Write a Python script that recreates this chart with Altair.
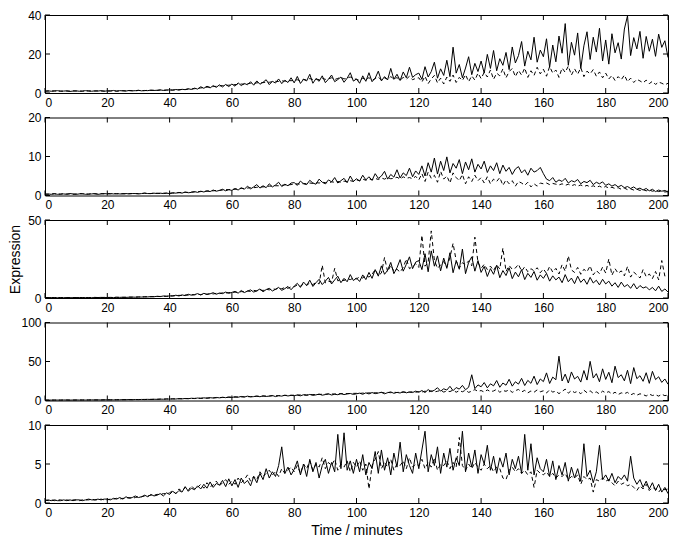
import altair as alt
import pandas as pd

TIME = list(range(201))
XTICKS = [0, 20, 40, 60, 80, 100, 120, 140, 160, 180, 200]

P1_SOLID = (
    [1.0,1.1,0.9,1.0,1.2,0.9,1.0,1.1,0.8,1.0,1.1,0.9,1.0,1.2,1.0,0.9,1.1,1.0,1.2,0.9]
    + [1.1,1.0,1.3,0.9,1.2,1.1,1.0,1.3,1.1,1.2,1.4,1.1,1.3,1.2,1.5,1.3,1.4,1.6,1.3,1.5]
    + [1.6,1.4,1.8,1.5,1.9,1.7,2.2,1.8,2.5,2.0,3.2,2.4,3.5,2.6,3.8,2.9,4.2,3.1,4.4,3.3]
    + [4.6,3.5,5.2,3.8,4.9,4.2,5.8,4.0,6.2,4.5,5.5,6.8,4.3,6.0,5.1,7.2,4.8,6.5,5.4,7.8]
    + [5.2,8.5,4.9,7.0,6.2,9.6,5.0,7.4,6.0,8.8,5.3,7.1,9.2,5.8,6.9,8.2,5.5,7.6,10.4,6.1]
    + [7.2,5.0,8.8,6.0,10.4,5.8,7.6,11.2,6.2,8.4,6.8,12.6,7.0,9.6,6.4,10.8,7.8,13.2,8.0,9.4]
    + [10.2,7.0,13.5,8.2,11.0,15.8,7.6,12.4,9.0,16.8,8.4,23.5,10.2,14.6,7.8,12.8,18.6,9.4,15.2,11.0]
    + [16.4,10.2,19.8,12.6,21.8,11.4,17.6,14.2,20.8,12.0,23.6,15.4,19.2,26.4,13.8,21.4,17.0,28.6,15.8,22.0]
    + [18.6,27.8,13.2,24.6,16.0,29.2,20.4,35.6,14.2,26.0,19.4,30.8,12.6,24.2,31.4,17.2,28.6,21.0,33.2,16.4]
    + [27.2,14.8,30.4,20.6,25.8,17.4,32.8,39.6,19.2,28.4,22.6,31.6,17.8,29.0,21.4,27.6,18.8,30.2,23.4,26.8]
    + [18.2]
)
P1_DASHED = (
    [0.9,1.0,1.0,1.1,1.0,1.0,0.9,1.0,1.0,1.1,1.0,1.0,0.9,1.1,1.1,1.0,1.0,1.1,1.0,1.0]
    + [1.0,1.1,1.1,1.0,1.1,1.2,1.1,1.2,1.2,1.1,1.3,1.2,1.2,1.4,1.3,1.4,1.3,1.5,1.4,1.5]
    + [1.5,1.6,1.6,1.7,1.8,1.8,2.0,2.1,2.2,2.4,2.6,2.8,3.0,3.1,3.3,3.4,3.6,3.8,3.9,4.0]
    + [4.1,4.3,4.4,4.6,4.5,4.8,5.0,4.9,5.2,5.4,5.3,5.6,5.5,5.8,6.0,5.9,6.2,6.1,6.4,6.3]
    + [6.5,6.8,6.2,7.0,6.6,7.4,6.9,7.2,6.8,7.6,7.0,7.3,7.8,6.9,7.5,8.0,7.2,7.7,8.2,7.4]
    + [7.0,6.4,7.6,6.8,7.9,6.5,7.4,8.2,6.6,7.8,6.9,8.4,7.2,7.9,6.6,8.0,7.1,8.6,6.8,7.5]
    + [7.8,5.6,8.6,4.8,7.2,9.0,5.2,7.6,4.6,8.2,6.0,9.2,5.4,8.0,6.4,9.4,5.8,8.8,6.6,10.2]
    + [7.4,10.6,8.2,11.8,7.0,10.2,8.8,12.4,7.8,11.0,12.6,8.4,11.6,9.2,12.8,8.0,11.4,9.0,13.2,9.8]
    + [12.2,8.6,13.6,10.2,11.8,8.0,12.8,10.6,13.8,9.2,12.4,9.6,13.0,8.4,11.2,9.8,12.0,8.6,10.8,7.8]
    + [10.2,7.2,9.0,6.4,8.4,6.8,9.2,5.8,7.6,5.4,7.0,6.2,5.2,6.6,4.8,6.0,4.4,5.6,5.0,4.2]
    + [5.0]
)

P2_SOLID = (
    [0.3,0.4,0.3,0.5,0.3,0.4,0.4,0.3,0.5,0.4,0.3,0.4,0.5,0.3,0.4,0.4,0.5,0.3,0.4,0.5]
    + [0.4,0.5,0.4,0.5,0.4,0.4,0.5,0.4,0.5,0.5,0.4,0.5,0.6,0.5,0.5,0.6,0.5,0.6,0.5,0.6]
    + [0.5,0.7,0.6,0.8,0.6,0.9,0.7,0.8,1.0,0.8,1.1,0.9,1.2,1.0,1.4,1.1,1.3,1.6,1.2,1.5]
    + [1.3,1.8,1.4,2.0,1.6,2.4,1.7,2.2,2.8,1.9,2.5,2.0,3.0,2.2,2.7,3.4,2.3,2.9,2.5,3.2]
    + [3.3,2.6,3.7,3.0,2.8,3.9,3.2,2.9,4.2,3.4,3.0,4.0,3.5,4.6,3.2,3.8,4.4,3.3,5.0,3.6]
    + [4.3,3.7,5.2,4.0,4.8,3.9,5.6,4.4,5.0,6.2,4.2,5.4,4.7,6.6,4.5,5.8,5.1,7.0,4.8,6.3]
    + [5.4,7.6,5.0,8.4,6.0,9.6,5.5,8.8,6.4,9.9,5.8,8.2,7.0,9.2,5.6,8.6,6.6,9.4,6.0,8.0]
    + [6.8,8.8,5.9,7.6,6.4,8.4,5.6,7.8,6.2,7.2,5.4,6.8,7.4,5.8,6.6,5.2,7.0,6.0,6.4,7.2]
    + [5.6,4.2,3.8,4.6,3.4,4.0,3.6,4.4,3.2,3.8,3.5,4.1,3.0,3.6,3.3,3.9,2.8,3.4,3.0,3.5]
    + [2.6,3.0,2.4,2.8,2.2,2.6,2.0,2.3,1.8,2.2,1.6,1.9,1.4,1.8,1.2,1.6,1.0,1.4,1.1,1.3]
    + [0.9]
)
P2_DASHED = (
    [0.4,0.3,0.4,0.4,0.4,0.3,0.5,0.4,0.4,0.3,0.4,0.5,0.4,0.4,0.3,0.5,0.4,0.4,0.5,0.4]
    + [0.5,0.4,0.5,0.4,0.5,0.5,0.4,0.5,0.5,0.5,0.5,0.5,0.6,0.5,0.5,0.6,0.6,0.5,0.6,0.6]
    + [0.6,0.6,0.7,0.7,0.8,0.8,0.8,0.9,0.9,1.0,1.0,1.1,1.1,1.2,1.2,1.3,1.3,1.4,1.5,1.5]
    + [1.6,1.6,1.7,1.8,1.8,1.9,2.0,2.0,2.1,2.2,2.2,2.3,2.4,2.4,2.5,2.5,2.6,2.7,2.7,2.8]
    + [2.9,3.0,2.9,3.1,3.0,3.2,3.1,3.3,3.2,3.4,3.3,3.2,3.5,3.4,3.6,3.4,3.7,3.5,3.8,3.6]
    + [4.0,3.8,4.2,3.9,4.3,4.0,4.4,4.1,4.5,4.2,4.6,4.3,4.4,4.7,4.2,4.8,4.4,4.6,4.3,4.9]
    + [4.0,5.6,3.6,6.0,4.4,5.2,3.4,6.2,4.2,5.0,3.2,5.8,4.6,3.8,5.4,3.0,4.8,3.6,5.2,3.8]
    + [4.6,3.2,4.8,3.0,4.2,3.6,4.6,2.6,4.0,3.0,3.8,2.4,3.6,3.2,2.6,3.4,2.2,3.0,2.4,3.2]
    + [3.0,3.2,2.8,3.1,2.9,2.7,3.0,2.6,2.9,2.5,2.8,2.4,2.7,2.3,2.6,2.2,2.5,2.1,2.4,2.0]
    + [2.3,1.9,2.1,1.8,2.0,1.6,1.9,1.5,1.7,1.4,1.6,1.3,1.5,1.2,1.4,1.1,1.3,1.0,1.2,0.9]
    + [1.0]
)

P3_SOLID = (
    [0.2,0.2,0.3,0.2,0.2,0.3,0.2,0.3,0.2,0.2,0.3,0.3,0.2,0.3,0.3,0.2,0.3,0.3,0.4,0.3]
    + [0.3,0.4,0.3,0.4,0.4,0.5,0.4,0.5,0.6,0.5,0.7,0.6,0.8,0.7,0.9,0.8,1.1,0.9,1.3,1.0]
    + [1.4,1.2,1.8,1.3,2.0,1.5,2.4,1.8,2.2,2.8,1.9,3.0,2.3,2.7,3.4,2.4,3.2,2.8,3.8,3.0]
    + [3.6,4.2,3.1,4.8,3.5,4.4,5.2,3.8,4.6,5.8,4.0,5.4,6.2,4.5,5.6,6.8,4.9,6.0,7.4,5.3]
    + [7.6,9.4,6.8,10.2,8.0,11.4,7.4,9.8,12.0,8.6,10.8,13.2,9.0,11.6,14.0,9.8,12.6,10.4,15.0,11.2]
    + [12.8,10.6,14.8,11.8,16.4,12.6,18.2,14.0,20.6,15.2,17.8,22.8,15.6,19.4,24.6,17.2,21.6,26.4,18.8,23.0]
    + [24.0,18.2,28.4,16.8,30.2,20.4,27.0,17.4,25.6,19.0,29.0,16.2,23.8,18.4,31.4,15.6,22.8,26.4,17.2,24.0]
    + [16.4,20.2,13.8,18.8,15.2,21.0,13.0,17.6,14.4,19.4,12.4,16.6,13.6,18.2,11.8,15.8,13.2,17.0,11.4,14.8]
    + [12.6,15.8,10.8,14.2,11.6,13.4,9.8,15.0,10.4,12.8,9.2,14.0,10.0,12.2,8.8,13.2,9.6,11.4,8.4,12.0]
    + [9.0,10.8,7.6,9.8,6.8,10.2,7.2,8.6,6.2,9.2,5.8,8.0,6.4,7.2,5.2,6.8,4.6,7.6,4.2,5.8]
    + [3.8]
)
P3_DASHED = (
    [0.2,0.3,0.2,0.3,0.3,0.2,0.3,0.2,0.3,0.3,0.2,0.3,0.3,0.3,0.2,0.3,0.4,0.3,0.3,0.4]
    + [0.4,0.3,0.4,0.5,0.4,0.4,0.5,0.6,0.5,0.6,0.6,0.7,0.7,0.8,0.8,0.9,1.0,1.0,1.1,1.2]
    + [1.2,1.5,1.4,1.7,1.6,2.0,1.8,2.2,2.0,2.4,2.2,2.6,2.4,2.8,2.6,3.0,2.8,3.3,3.1,3.5]
    + [3.4,3.8,3.6,4.1,3.9,4.5,4.2,4.9,4.5,5.2,4.8,5.6,5.2,6.0,5.5,6.4,5.9,6.8,6.2,7.2]
    + [7.2,8.4,7.6,9.0,8.2,9.6,8.6,10.0,9.0,21.0,9.6,10.8,10.2,19.0,11.0,11.6,11.2,12.4,11.8,12.8]
    + [12.2,13.6,12.8,14.6,13.4,15.2,18.2,14.4,16.0,26.0,16.8,21.0,17.2,18.4,16.6,19.6,25.0,18.8,20.2,22.0]
    + [19.6,40.2,20.4,22.8,43.0,24.2,19.0,21.2,23.4,19.8,26.0,35.0,24.0,19.2,22.6,21.4,23.8,20.6,39.0,22.8]
    + [19.0,21.6,18.2,20.4,17.6,21.2,18.6,32.0,17.0,20.8,18.4,19.2,21.6,17.2,20.0,16.8,18.8,17.4,19.4,16.2]
    + [18.6,15.8,20.2,16.6,19.0,15.4,21.4,17.2,27.0,18.0,16.4,19.6,15.2,18.4,16.8,20.6,14.8,17.6,15.6,19.8]
    + [16.0,25.0,14.6,18.8,15.8,17.4,14.2,20.2,13.4,16.6,14.8,12.8,18.2,13.6,15.4,12.4,17.0,11.6,24.0,14.0]
    + [13.8]
)

P4_SOLID = (
    [0.5,0.6,0.5,0.5,0.6,0.5,0.7,0.6,0.5,0.6,0.7,0.6,0.7,0.6,0.7,0.8,0.7,0.8,0.7,0.9]
    + [0.8,0.9,0.8,1.0,0.9,1.1,1.0,1.2,1.0,1.3,1.1,1.4,1.2,1.5,1.3,1.6,1.5,1.8,1.6,2.0]
    + [1.8,2.2,1.9,2.4,2.1,2.6,2.3,2.9,2.5,3.2,2.7,3.4,3.0,3.6,3.2,3.9,3.4,4.2,3.6,4.5]
    + [3.9,4.8,4.2,5.2,4.4,5.6,4.6,5.0,5.8,4.8,6.0,5.2,5.6,6.4,5.0,6.2,5.6,6.8,5.8,6.6]
    + [6.2,7.0,6.0,7.4,6.4,7.8,6.6,7.2,8.2,6.8,7.6,8.6,7.0,8.0,7.4,8.8,7.6,8.4,9.0,7.8]
    + [8.6,9.4,8.0,9.8,8.4,10.2,8.8,9.6,10.6,8.6,10.0,11.0,9.2,10.4,9.6,11.4,9.8,11.0,10.2,12.0]
    + [10.6,12.8,10.2,14.0,11.4,13.2,16.4,12.0,15.0,13.4,18.2,12.6,16.6,14.6,19.4,13.8,17.0,33.0,15.2,20.0]
    + [17.6,23.0,16.2,21.4,18.8,25.6,17.0,22.4,19.6,27.2,18.4,24.0,21.0,28.4,19.2,25.8,22.0,31.2,20.4,27.6]
    + [24.2,35.4,21.8,30.0,26.6,56.8,25.0,33.8,22.4,36.6,27.6,31.0,23.6,38.4,26.2,50.2,28.8,34.4,24.0,40.6]
    + [27.0,36.2,22.8,44.0,29.4,33.0,25.2,38.8,21.6,42.2,28.0,31.8,24.6,35.6,22.0,37.4,26.8,30.4,23.2,27.6]
    + [20.8]
)
P4_DASHED = (
    [0.6,0.5,0.6,0.6,0.5,0.6,0.6,0.7,0.6,0.6,0.6,0.7,0.6,0.7,0.7,0.7,0.8,0.7,0.8,0.8]
    + [0.9,0.8,0.9,0.9,1.0,1.0,1.1,1.1,1.2,1.2,1.3,1.3,1.4,1.4,1.5,1.5,1.6,1.7,1.8,1.9]
    + [2.0,2.0,2.1,2.2,2.3,2.4,2.5,2.6,2.7,2.8,2.9,3.0,3.1,3.3,3.4,3.5,3.7,3.8,3.9,4.1]
    + [4.2,4.3,4.5,4.6,4.8,4.9,5.0,5.2,5.3,5.4,5.6,5.7,5.8,6.0,6.1,6.2,6.3,6.5,6.6,6.7]
    + [6.8,7.0,7.1,7.2,7.3,7.5,7.6,7.7,7.8,8.0,8.1,8.2,8.3,8.4,8.6,8.7,8.8,8.9,9.0,9.1]
    + [9.2,9.0,9.5,9.3,9.8,9.4,10.0,9.6,10.2,9.8,10.4,10.0,10.6,10.2,10.8,10.4,11.0,10.5,11.2,10.6]
    + [11.4,10.8,12.0,10.6,12.4,11.0,11.8,13.0,10.8,12.2,11.4,13.4,10.6,12.6,11.2,13.2,10.4,12.0,14.0,11.6]
    + [12.8,10.8,13.6,11.4,12.2,14.4,10.6,12.8,11.8,13.8,10.4,12.6,14.2,11.0,13.0,9.8,12.2,10.6,13.6,11.2]
    + [12.4,9.6,13.8,10.8,12.0,8.8,11.6,14.6,9.4,12.8,10.2,11.8,8.6,13.2,10.0,12.4,9.2,11.0,8.4,12.0]
    + [9.8,11.4,8.2,10.6,7.6,9.8,8.8,10.4,7.2,9.0,6.8,8.6,7.6,5.8,8.2,6.4,7.4,5.6,8.0,6.2]
    + [7.0]
)

P5_SOLID = (
    [0.3,0.4,0.3,0.4,0.3,0.3,0.4,0.3,0.4,0.3,0.4,0.4,0.3,0.4,0.5,0.4,0.4,0.5,0.4,0.5]
    + [0.5,0.4,0.6,0.5,0.7,0.5,0.8,0.6,0.7,0.9,0.7,0.8,1.0,0.8,1.1,0.9,1.0,1.2,0.9,1.3]
    + [1.1,1.5,1.2,1.6,1.4,2.1,1.5,1.9,1.7,2.2,1.8,2.4,1.9,2.7,2.0,2.5,2.3,2.9,2.1,3.1]
    + [2.2,3.0,2.0,3.2,2.5,2.9,2.2,3.4,2.6,3.8,3.0,4.4,3.2,4.0,3.4,4.8,7.2,3.8,4.6,3.6]
    + [4.3,5.4,3.6,5.0,3.4,5.6,4.0,5.2,3.2,4.8,5.6,3.8,5.2,4.0,8.8,4.4,9.0,4.2,5.4,3.8]
    + [5.6,4.0,6.2,3.6,5.2,4.4,6.6,3.8,6.8,4.2,5.8,3.6,6.4,4.6,7.8,4.0,6.2,4.8,3.8,6.4]
    + [4.4,6.8,9.2,4.0,6.2,4.8,7.2,3.8,6.4,4.6,7.0,4.2,5.8,4.8,9.2,4.0,6.4,4.6,6.8,3.8]
    + [6.2,5.0,7.4,4.2,6.0,3.8,5.8,4.6,6.4,3.6,5.6,4.4,6.0,3.8,8.8,4.2,7.6,3.6,5.8,4.4]
    + [4.0,5.6,3.4,5.4,3.0,4.8,3.6,5.2,2.8,4.6,3.2,4.4,2.8,7.6,3.4,4.2,2.6,4.0,7.4,3.0]
    + [3.6,2.8,3.8,2.6,3.4,3.0,3.6,2.8,6.0,3.2,2.4,3.0,2.0,2.8,1.8,2.6,1.6,2.4,1.4,2.0]
    + [1.2]
)
P5_DASHED = (
    [0.4,0.3,0.4,0.3,0.4,0.4,0.3,0.4,0.3,0.4,0.4,0.3,0.4,0.4,0.4,0.5,0.4,0.4,0.5,0.4]
    + [0.4,0.5,0.5,0.6,0.5,0.6,0.6,0.7,0.6,0.7,0.8,0.8,0.9,0.9,1.0,1.0,1.1,1.1,1.2,1.2]
    + [1.3,1.6,1.2,1.8,1.5,2.0,1.6,2.2,1.8,2.0,2.4,1.9,2.6,2.1,2.3,2.8,2.2,2.6,3.0,2.4]
    + [2.8,2.4,3.2,2.6,3.0,3.6,2.8,3.4,3.0,4.0,3.4,3.8,4.2,3.6,4.0,3.4,4.4,3.8,4.2,4.6]
    + [4.0,4.8,3.8,5.0,4.4,5.4,4.2,5.0,4.6,5.8,4.4,5.2,4.8,5.6,4.2,5.0,4.6,5.4,4.0,5.2]
    + [4.6,5.4,4.2,5.0,1.8,4.8,5.6,6.6,4.4,5.2,4.6,5.6,4.2,5.0,4.8,5.4,4.4,5.8,4.6,5.0]
    + [4.8,5.6,4.4,5.2,4.6,5.8,4.2,5.0,4.8,5.4,4.4,5.2,4.6,8.4,4.8,4.2,5.0,4.4,5.2,4.6]
    + [4.2,5.0,4.4,4.8,4.0,4.6,4.4,3.2,3.0,4.2,4.6,4.0,4.4,3.8,4.2,3.6,4.0,2.0,4.2,3.8]
    + [3.6,4.0,3.4,3.8,3.2,3.6,3.4,3.8,3.0,3.4,3.2,3.6,2.4,3.4,3.0,3.2,1.4,3.0,2.8,3.2]
    + [2.8,3.0,2.6,2.2,2.8,2.4,2.6,2.2,2.4,2.0,1.6,2.2,1.8,2.4,1.6,2.0,1.8,1.4,1.9,1.7]
    + [1.8]
)

Y_MAX = [40, 20, 50, 100, 10]
Y_TICKS = [[0, 20, 40], [0, 10, 20], [0, 50], [0, 50, 100], [0, 5, 10]]
SERIES = [
    (P1_SOLID, P1_DASHED), (P2_SOLID, P2_DASHED), (P3_SOLID, P3_DASHED),
    (P4_SOLID, P4_DASHED), (P5_SOLID, P5_DASHED),
]
for s, d in SERIES:
    assert len(s) == 201 and len(d) == 201, (len(s), len(d))

W, H = 623, 78
TICK = 5
FONT = "Liberation Sans"


def make_panel(idx):
    solid, dashed = SERIES[idx]
    ymax = Y_MAX[idx]
    df = pd.DataFrame({"t": TIME, "solid": solid, "dashed": dashed})
    xscale = alt.Scale(domain=[0, 200], nice=False, zero=False)
    yscale = alt.Scale(domain=[0, ymax], nice=False)

    xaxis_kw = dict(values=XTICKS, labelPadding=4, title=None)
    if idx == 4:
        xaxis_kw["title"] = "Time / minutes"
        xaxis_kw["titlePadding"] = 5
    yaxis_kw = dict(values=Y_TICKS[idx], labelPadding=4, title=None)
    if idx == 2:
        yaxis_kw["title"] = "Expression"
        yaxis_kw["titlePadding"] = 5
    xaxis = alt.Axis(**xaxis_kw)
    yaxis = alt.Axis(**yaxis_kw)

    dash_line = alt.Chart(df).mark_line(color="black", strokeWidth=1, strokeDash=[4, 3]).encode(
        x=alt.X("t:Q", scale=xscale, axis=xaxis),
        y=alt.Y("dashed:Q", scale=yscale, axis=yaxis),
    )
    solid_line = alt.Chart(df).mark_line(color="black", strokeWidth=1).encode(
        x=alt.X("t:Q", scale=xscale, axis=xaxis),
        y=alt.Y("solid:Q", scale=yscale, axis=yaxis),
    )
    xt = pd.DataFrame({"t": XTICKS})
    yt = pd.DataFrame({"dashed": Y_TICKS[idx]})
    bottom_ticks = alt.Chart(xt).mark_rule(color="black", strokeWidth=1).encode(
        x=alt.X("t:Q", scale=xscale, axis=xaxis), y=alt.value(H - TICK), y2=alt.value(H))
    top_ticks = alt.Chart(xt).mark_rule(color="black", strokeWidth=1).encode(
        x=alt.X("t:Q", scale=xscale, axis=xaxis), y=alt.value(0), y2=alt.value(TICK))
    left_ticks = alt.Chart(yt).mark_rule(color="black", strokeWidth=1).encode(
        y=alt.Y("dashed:Q", scale=yscale, axis=yaxis), x=alt.value(0), x2=alt.value(TICK))
    right_ticks = alt.Chart(yt).mark_rule(color="black", strokeWidth=1).encode(
        y=alt.Y("dashed:Q", scale=yscale, axis=yaxis), x=alt.value(W - TICK), x2=alt.value(W))
    return alt.layer(dash_line, solid_line, bottom_ticks, top_ticks, left_ticks, right_ticks).properties(
        width=W, height=H)


chart = alt.vconcat(*[make_panel(i) for i in range(5)], spacing=24.5, bounds="flush").configure_view(
    stroke="black", strokeWidth=1
).configure_axis(
    labelFont=FONT, labelFontSize=12, labelColor="black",
    titleFont=FONT, titleFontSize=14, titleColor="black", titleFontWeight="normal",
    domain=False, ticks=False, grid=False,
).properties(
    padding={"left": 0, "top": 0, "right": 5, "bottom": 0},
    background="white",
)

chart.save("out.html", embed_options={"renderer": "svg", "actions": False})
